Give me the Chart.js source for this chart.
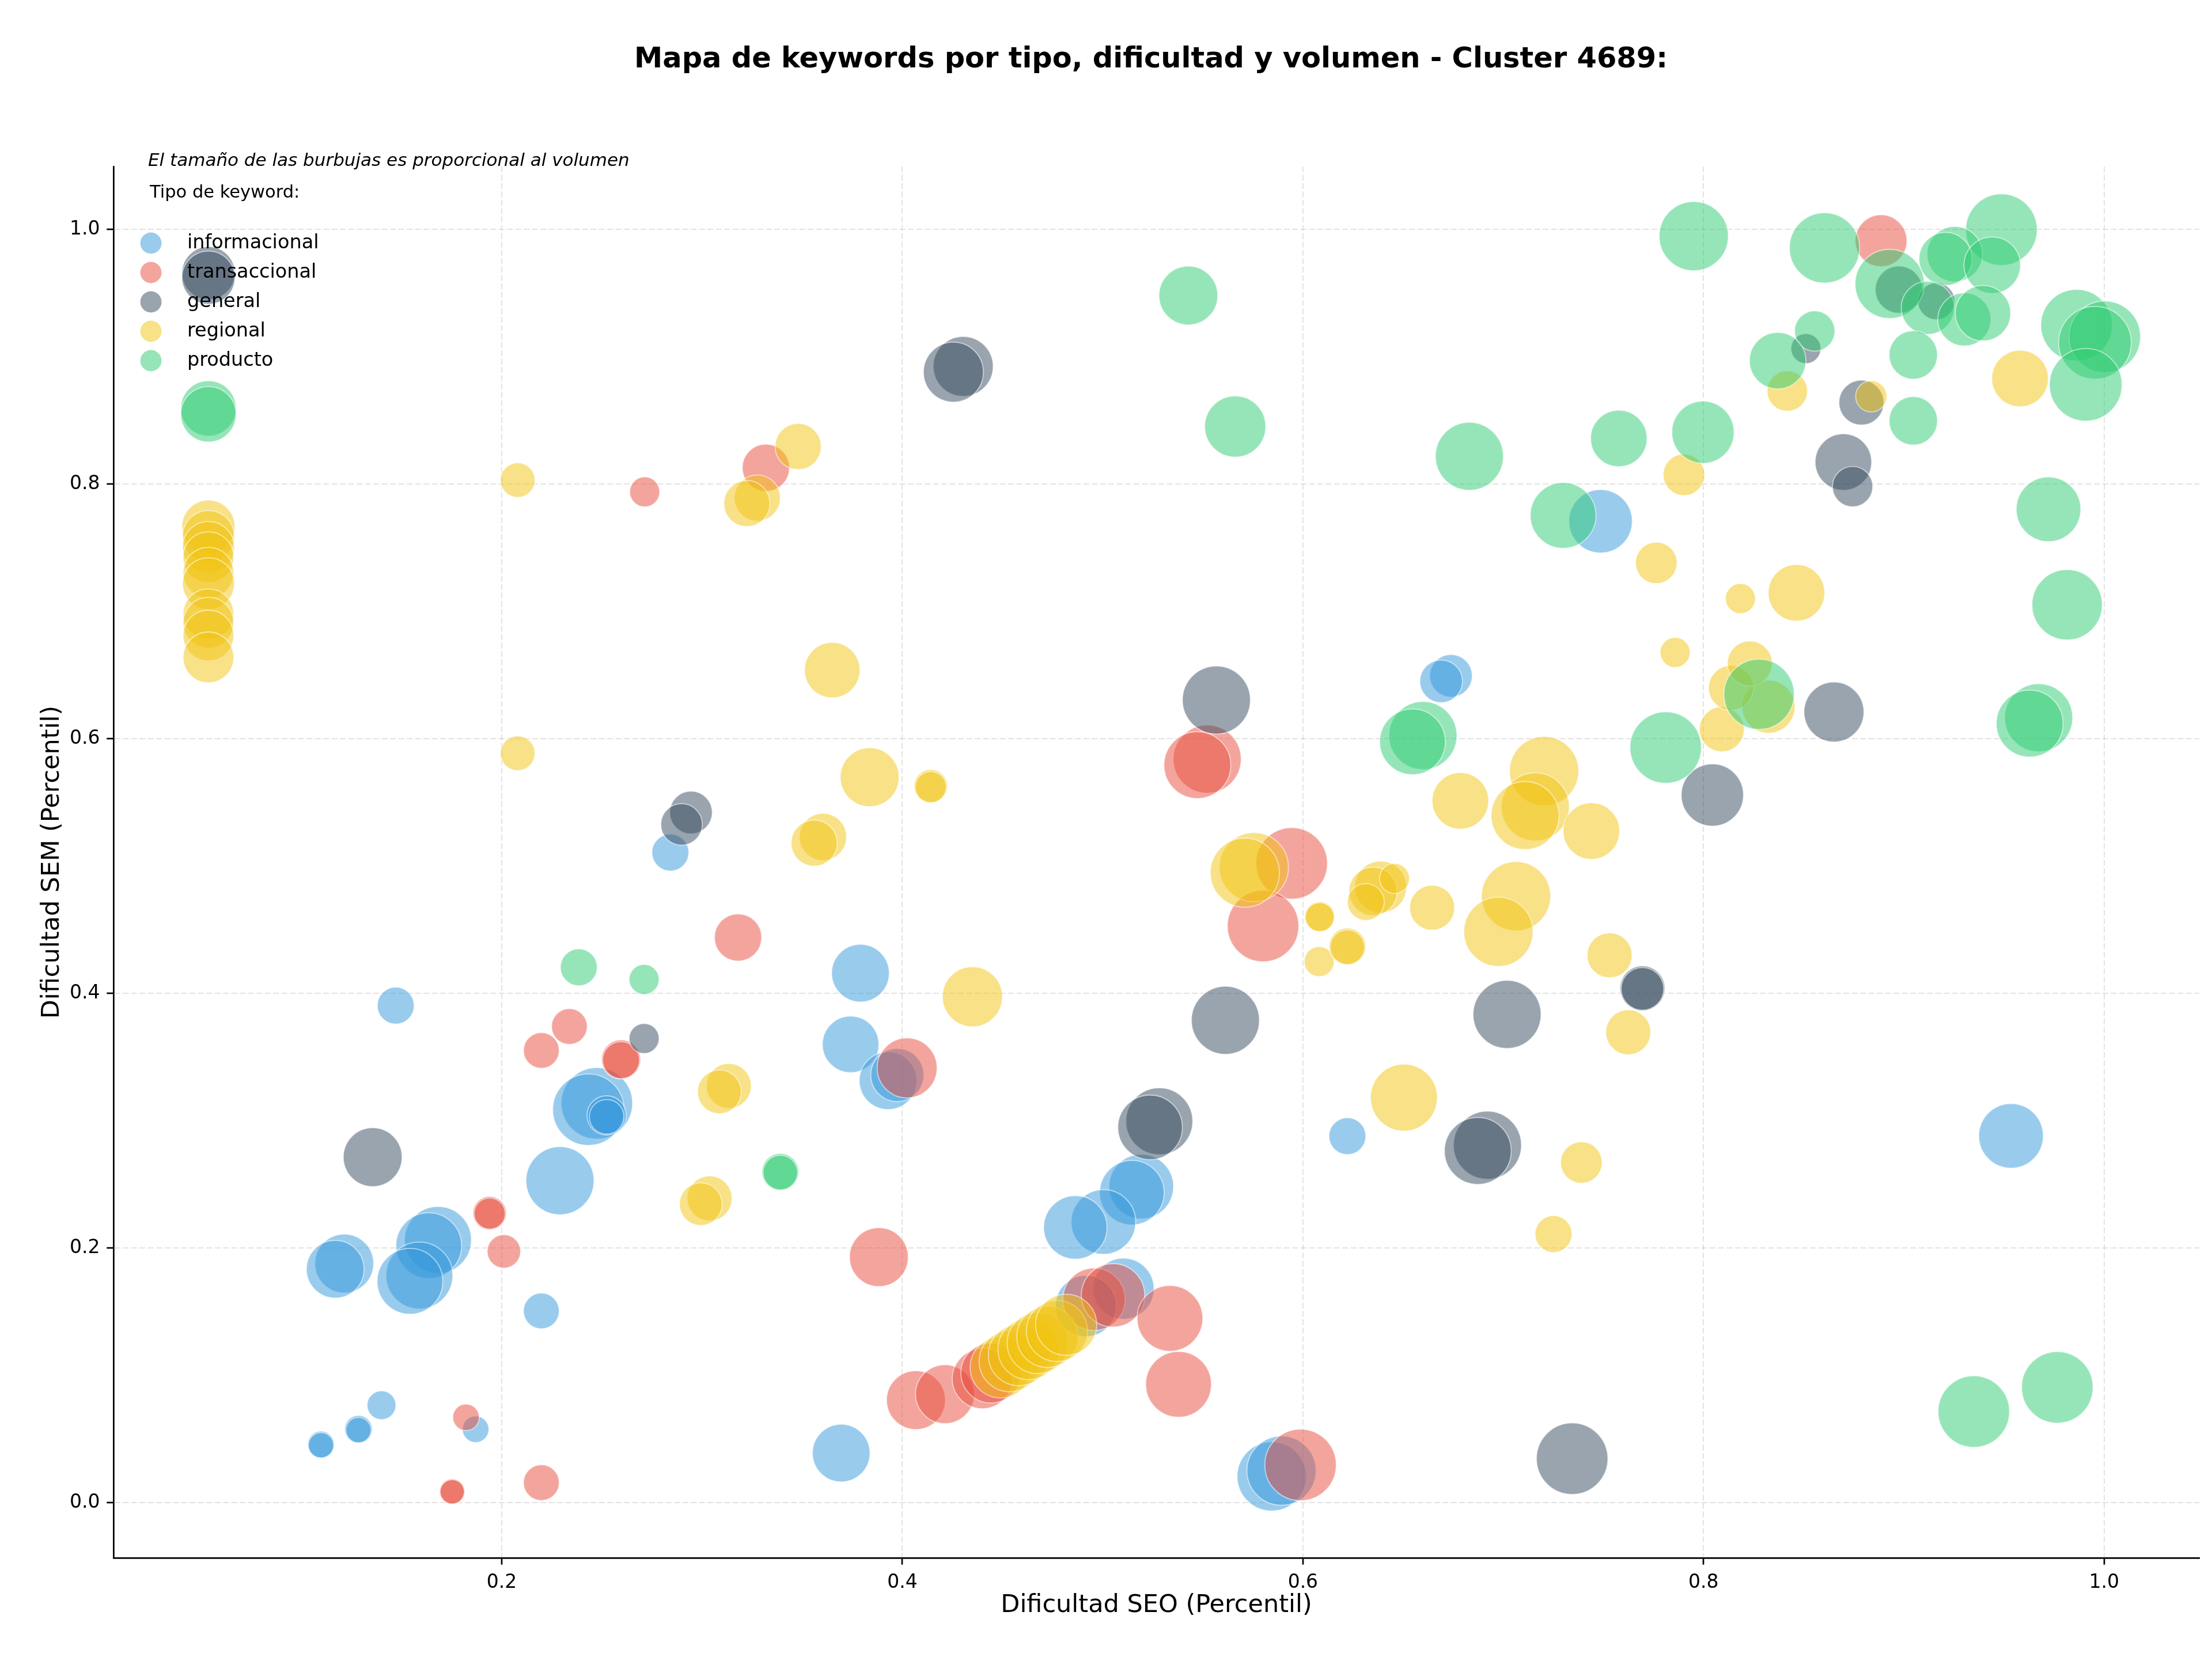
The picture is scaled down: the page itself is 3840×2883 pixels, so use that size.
<!DOCTYPE html>
<html><head><meta charset="utf-8">
<script src="https://cdn.jsdelivr.net/npm/chart.js@4.4.1/dist/chart.umd.min.js"></script>
<style>html,body{margin:0;padding:0;background:#fff;}canvas{display:block;}</style>
</head><body>
<canvas id="c" width="3840" height="2883"></canvas>
<script>
// ---------------- DATA ----------------
const categories = ['informacional', 'transaccional', 'general', 'regional', 'producto'];
const xTicks = [0.2, 0.4, 0.6, 0.8, 1.0];
const yTicks = [0.0, 0.2, 0.4, 0.6, 0.8, 1.0];

// informacional
const infoX = [0.2842,0.1471,0.2475,0.2433,0.2524,0.2524,0.2291,0.2198,0.1214,0.1169,0.1682,0.1636,0.1589,0.1542,0.1400,0.1285,0.1285,0.1098,0.1098,0.1870,0.3791,0.3742,0.3929,0.3975,0.5193,0.5146,0.5004,0.4864,0.5104,0.4917,0.3695,0.5844,0.5893,0.6222,0.6739,0.6690,0.7486,0.9535];
const infoY = [0.5105,0.3903,0.3136,0.3086,0.3041,0.3030,0.2528,0.1505,0.1878,0.1833,0.2063,0.2018,0.1784,0.1738,0.0765,0.0576,0.0570,0.0457,0.0450,0.0576,0.4158,0.3599,0.3313,0.3358,0.2482,0.2434,0.2204,0.2161,0.1680,0.1544,0.0389,0.0206,0.0251,0.2878,0.6493,0.6450,0.7707,0.2880];
const infoV = [32,32,62,62,34,30,59,31,51,50,58,57,58,57,25,24,22,23,22,23,50,49,50,46,56,56,56,55,53,53,50,60,60,32,37,37,55,56];

// transaccional
const transX = [0.2714,0.3319,0.5522,0.5473,0.5944,0.5801,0.3180,0.2338,0.2198,0.2596,0.2596,0.1940,0.1940,0.2011,0.1822,0.1753,0.1753,0.2198,0.4024,0.3883,0.4957,0.5052,0.5336,0.5379,0.4068,0.4213,0.4399,0.4442,0.5988,0.8886];
const transY = [0.7938,0.8127,0.5839,0.5792,0.5020,0.4528,0.4438,0.3739,0.3551,0.3480,0.3475,0.2273,0.2270,0.1973,0.0670,0.0087,0.0085,0.0157,0.3414,0.1928,0.1597,0.1628,0.1447,0.0929,0.0805,0.0852,0.0973,0.1018,0.0296,0.9910];
const transV = [26,41,59,58,62,62,41,31,31,34,32,29,27,29,23,22,21,31,52,51,54,55,57,57,51,51,52,52,62,45];

// general
const generalX = [0.0536,0.0536,0.4304,0.4255,0.5568,0.2945,0.2898,0.2711,0.1356,0.5613,0.7019,0.6921,0.6873,0.5283,0.5237,0.7695,0.7695,0.7344,0.8975,0.9162,0.8511,0.8788,0.8698,0.8744,0.8651,0.8044];
const generalY = [0.9656,0.9620,0.8923,0.8878,0.6303,0.5420,0.5326,0.3645,0.2713,0.3788,0.3834,0.2807,0.2762,0.2995,0.2947,0.4039,0.4035,0.0345,0.9526,0.9435,0.9063,0.8639,0.8172,0.7979,0.6209,0.5557];
const generalV = [46,46,52,52,59,37,36,26,51,59,59,59,58,58,56,39,37,62,41,32,26,39,49,35,52,54];

// regional
const regionalX = [0.0536,0.0536,0.0536,0.0536,0.0536,0.0536,0.0536,0.0536,0.0536,0.0536,
  0.2080,0.3480,0.3276,0.3224,0.3650,0.2080,0.3604,0.3560,0.3837,0.4142,0.4142,0.5755,0.5710,0.4350,0.3134,0.3087,0.3038,0.2994,
  0.6084,0.6084,0.6081,0.6222,0.6222,0.6388,0.6350,0.6314,0.6457,0.6645,0.7064,0.6976,0.6504,0.7531,0.7624,0.7390,0.7251,
  0.6786,0.7204,0.7160,0.7109,0.7440,0.8091,0.8324,0.8137,0.8231,0.7858,0.8184,0.8464,0.7764,0.7902,0.8418,0.8837,0.9580,
  0.4491,0.4536,0.4582,0.4630,0.4676,0.4724,0.4772,0.4818];
const regionalY = [0.7665,0.7588,0.7502,0.7425,0.7303,0.7217,0.6977,0.6910,0.6810,0.6638,
  0.8030,0.8294,0.7890,0.7846,0.6538,0.5885,0.5228,0.5180,0.5697,0.5626,0.5620,0.4990,0.4947,0.3973,0.3272,0.3226,0.2389,0.2344,
  0.4602,0.4598,0.4249,0.4367,0.4362,0.4835,0.4800,0.4717,0.4902,0.4672,0.4762,0.4483,0.3181,0.4298,0.3694,0.2671,0.2109,
  0.5511,0.5745,0.5464,0.5396,0.5274,0.6073,0.6251,0.6398,0.6590,0.6677,0.7100,0.7145,0.7380,0.8072,0.8730,0.8688,0.8828,
  0.1062,0.1110,0.1158,0.1205,0.1253,0.1302,0.1348,0.1397];
const regionalV = [46,45,45,44,44,45,44,44,44,44,
  30,40,40,40,48,30,41,40,51,29,27,60,60,52,39,38,39,37,
  26,25,26,32,30,45,42,32,26,39,60,60,58,39,39,36,32,
  49,60,59,59,49,39,46,39,39,26,26,49,36,36,35,27,49,
  53,53,53,53,53,53,53,53];

// producto
const productoX = [0.0536,0.0536,0.5428,0.5662,0.6831,0.6599,0.6547,0.2385,0.2711,0.3391,0.3391,0.7951,0.8604,0.8929,0.9487,0.9254,0.9208,0.9441,0.9119,0.9302,0.9395,0.9862,1.0003,0.9954,0.9908,0.8555,0.8370,0.9047,0.9047,0.7577,0.7997,0.7299,0.9722,0.9815,0.8277,0.9673,0.9628,0.7811,0.9349,0.9766];
const productoY = [0.8593,0.8547,0.9480,0.8451,0.8217,0.6024,0.5975,0.4204,0.4109,0.2597,0.2592,0.9946,0.9854,0.9571,0.9997,0.9805,0.9767,0.9718,0.9383,0.9292,0.9341,0.9247,0.9156,0.9109,0.8779,0.9201,0.8968,0.9013,0.8496,0.8357,0.8406,0.7753,0.7801,0.7051,0.6348,0.6164,0.6118,0.5930,0.0715,0.0905];
const productoV = [48,48,51,53,59,59,57,32,26,32,30,60,61,60,62,48,46,49,46,46,48,62,62,63,63,35,49,42,42,49,54,57,56,61,61,59,58,62,62,62];

// ---------------- CHART ----------------
const FONT = '"DejaVu Sans", "Liberation Sans", sans-serif';
const baseColors = ['52,152,219', '231,76,60', '52,73,94', '241,196,15', '46,204,113'];
const series = [
  [infoX, infoY, infoV], [transX, transY, transV], [generalX, generalY, generalV],
  [regionalX, regionalY, regionalV], [productoX, productoY, productoV]
];
const datasets = series.map((s, i) => ({
  label: categories[i],
  data: s[0].map((x, j) => ({ x: x, y: s[1][j], r: s[2][j] })),
  backgroundColor: 'rgba(' + baseColors[i] + ',0.5)',
  borderColor: 'rgba(255,255,255,0.55)',
  borderWidth: 1.8,
  hoverBorderWidth: 1.8,
  order: 5 - i
}));

const overlay = {
  id: 'overlay',
  afterDraw(chart) {
    const ctx = chart.ctx;
    ctx.save();
    ctx.fillStyle = '#000';
    ctx.font = 'bold 49.5px ' + FONT;
    ctx.textAlign = 'center';
    ctx.textBaseline = 'middle';
    ctx.fillText('Mapa de keywords por tipo, dificultad y volumen - Cluster 4689:', 1998, 104);
    ctx.textAlign = 'left';
    ctx.font = 'italic 31px ' + FONT;
    ctx.fillText('El tamaño de las burbujas es proporcional al volumen', 257, 280);
    ctx.font = '30.5px ' + FONT;
    ctx.fillText('Tipo de keyword:', 260, 335);
    ctx.font = '33.5px ' + FONT;
    categories.forEach((c, i) => {
      const y = 422 + i * 51;
      ctx.beginPath();
      ctx.arc(262, y, 18.5, 0, Math.PI * 2);
      ctx.fillStyle = 'rgba(' + baseColors[i] + ',0.5)';
      ctx.fill();
      ctx.fillStyle = '#000';
      ctx.fillText(c, 325, y);
    });
    ctx.restore();
  }
};

const tickFont = { family: FONT, size: 33 };
const titleFont = { family: FONT, size: 43 };
const gridCfg = { color: 'rgba(176,176,176,0.35)', lineWidth: 2, tickColor: '#000', tickWidth: 2.7, tickLength: 11.7, tickBorderDash: [] };

new Chart(document.getElementById('c'), {
  type: 'bubble',
  data: { datasets: datasets },
  options: {
    responsive: false, animation: false, devicePixelRatio: 1,
    layout: { autoPadding: false, padding: { left: 0, right: 22, top: 289, bottom: 0 } },
    plugins: { legend: { display: false }, tooltip: { enabled: false }, title: { display: false } },
    scales: {
      x: {
        type: 'linear', min: 0.0062, max: 1.0475,
        afterBuildTicks: s => { s.ticks = xTicks.map(v => ({ value: v })); },
        afterFit: s => { s.height = 179; s.paddingLeft = 0; s.paddingRight = 0; },
        grid: gridCfg,
        border: { display: true, color: '#000', width: 2.7, dash: [10, 4.5] },
        ticks: { font: tickFont, color: '#000', padding: 11.7, maxRotation: 0, callback: v => v.toFixed(1) },
        title: { display: true, text: 'Dificultad SEO (Percentil)', font: titleFont, color: '#000', padding: { top: 0, bottom: 70 } }
      },
      y: {
        type: 'linear', min: -0.0434, max: 1.0493,
        afterBuildTicks: s => { s.ticks = yTicks.map(v => ({ value: v })); },
        afterFit: s => { s.width = 197; s.paddingTop = 0; s.paddingBottom = 0; },
        grid: gridCfg,
        border: { display: true, color: '#000', width: 2.7, dash: [10, 4.5] },
        ticks: { font: tickFont, color: '#000', padding: 11.7, callback: v => v.toFixed(1) },
        title: { display: true, text: 'Dificultad SEM (Percentil)', font: titleFont, color: '#000', padding: { top: 65, bottom: 0 } }
      }
    }
  },
  plugins: [overlay]
});
</script>
</body></html>
